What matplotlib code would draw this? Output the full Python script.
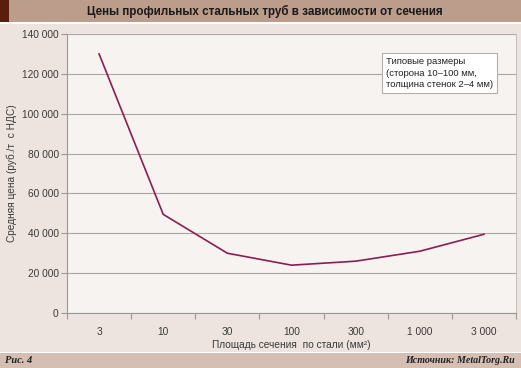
import numpy as np
import matplotlib.pyplot as plt
from matplotlib.patches import Rectangle

plt.rcParams['font.family'] = ['Liberation Sans', 'DejaVu Sans']

# данные
sections = ["3", "10", "30", "100", "300", "1 000", "3 000"]
prices = [130000, 49500, 30000, 24000, 26000, 31000, 39500]
yticks = [0, 20000, 40000, 60000, 80000, 100000, 120000, 140000]
ytick_labels = ["0", "20 000", "40 000", "60 000", "80 000", "100 000", "120 000", "140 000"]

W, H = 521, 368
fig = plt.figure(figsize=(W / 100, H / 100), dpi=100)
fig.patch.set_facecolor("#ede4df")

# полосы сверху и снизу
fig.patches.append(Rectangle((0, 1 - 22 / H), 1, 22 / H, transform=fig.transFigure,
                             facecolor="#bc9c8a", edgecolor="none", zorder=0))
fig.patches.append(Rectangle((0, 1 - 22 / H), 9 / W, 22 / H, transform=fig.transFigure,
                             facecolor="#5a1e0e", edgecolor="none", zorder=1))
fig.patches.append(Rectangle((0, 1 - 24 / H), 1, 2 / H, transform=fig.transFigure,
                             facecolor="white", edgecolor="none", zorder=1))
fig.patches.append(Rectangle((0, 0), 1, 15 / H, transform=fig.transFigure,
                             facecolor="#d5bfb3", edgecolor="none", zorder=0))
fig.patches.append(Rectangle((0, 15 / H), 1, 1.5 / H, transform=fig.transFigure,
                             facecolor="white", edgecolor="none", zorder=1))

fig.text(265 / W, 1 - 11 / H, "Цены профильных стальных труб в зависимости от сечения",
         ha="center", va="center", fontsize=8.4, fontweight="bold", color="#1a1a1a")
fig.text(5 / W, 7.5 / H, "Рис. 4", ha="left", va="center", fontsize=7.5,
         family=["Liberation Serif"], style="italic", fontweight="bold", color="#222222")
fig.text(515 / W, 7.5 / H, "Источник: MetalTorg.Ru", ha="right", va="center", fontsize=7.2,
         family=["Liberation Serif"], style="italic", fontweight="bold", color="#222222")

ax = fig.add_axes([67 / W, (H - 313) / H, 449 / W, 279 / H])
ax.set_facecolor("#f7f3f0")

x = np.arange(len(sections)) + 0.5
ax.plot(x, prices, color="#8c1d52", lw=1.2, zorder=3)

ax.set_xlim(0, len(sections))
ax.set_ylim(0, 140000)
ax.set_yticks(yticks)
ax.set_yticklabels(ytick_labels, fontsize=7.3, color="#3a3a3a")
ax.set_xticks(np.arange(len(sections) + 1))
ax.set_xticklabels([])
ax.set_xticks(x, minor=True)
ax.set_xticklabels(sections, minor=True, fontsize=7.3, color="#3a3a3a")
ax.tick_params(axis="x", which="major", length=4, color="#999999", direction="out")
ax.tick_params(axis="x", which="minor", length=0, pad=10)
ax.tick_params(axis="y", length=4, color="#999999", pad=2)

ax.grid(axis="y", color="#a8a8a8", lw=0.8)
ax.set_axisbelow(True)
ax.spines["top"].set_visible(False)
ax.spines["right"].set_color("#c8c0bc")
for s in ["left", "bottom"]:
    ax.spines[s].set_color("#999999")
    ax.spines[s].set_linewidth(0.8)

ax.set_xlabel("Площадь сечения  по стали (мм²)", fontsize=7.3, color="#3a3a3a", labelpad=2)
ax.set_ylabel("Средняя цена (руб./т  с НДС)", fontsize=7.3, color="#3a3a3a")
ax.yaxis.set_label_coords(-0.111, 0.5)

ax.text(0.71, 0.86, "Типовые размеры\n(сторона 10–100 мм,\nтолщина стенок 2–4 мм)",
        transform=ax.transAxes, ha="left", va="center", fontsize=6.8, color="#222222",
        linespacing=1.35,
        bbox=dict(boxstyle="square,pad=0.45", facecolor="white", edgecolor="#b0b0b0", lw=0.8),
        zorder=4)

fig.savefig("out.png", dpi=100, facecolor=fig.get_facecolor())
